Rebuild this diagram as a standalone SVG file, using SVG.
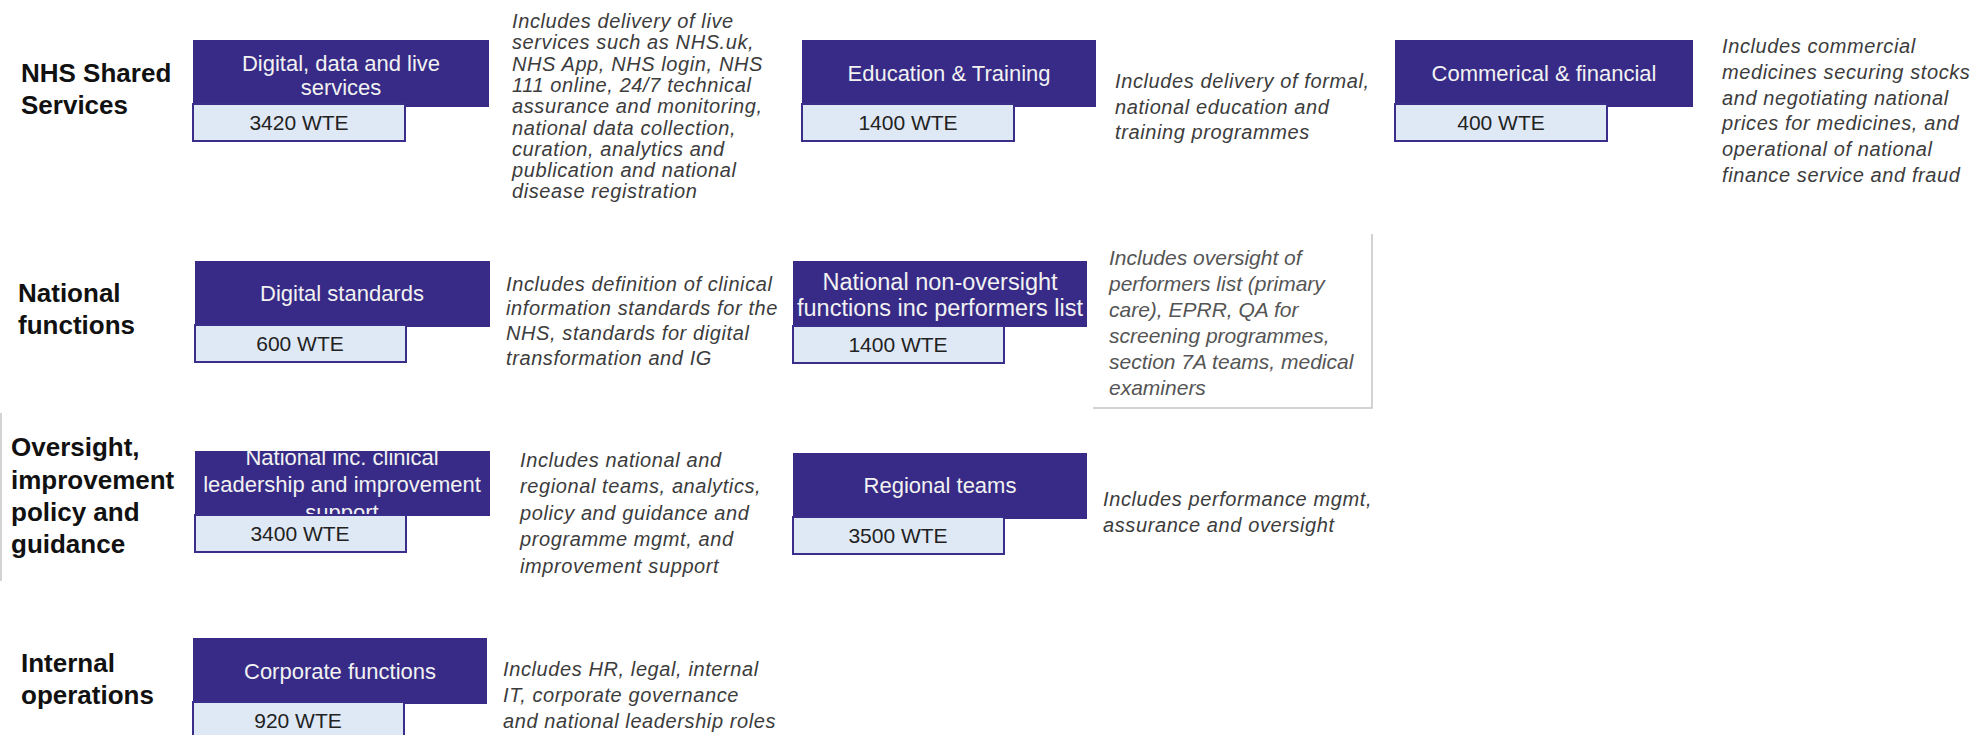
<svg xmlns="http://www.w3.org/2000/svg" width="1980" height="735" viewBox="0 0 1980 735">
<style>
.bg{fill:#ffffff}
.hd{fill:#372b87}
.wt{fill:#dfe9f5;stroke:#3a2e8a;stroke-width:2}
.ht{font-family:"Liberation Sans",Arial,sans-serif;font-size:22px;fill:#f2f2f2;text-anchor:middle}
.ht2{font-family:"Liberation Sans",Arial,sans-serif;font-size:23.5px;fill:#f2f2f2;text-anchor:middle}
.wtt{font-family:"Liberation Sans",Arial,sans-serif;font-size:21px;fill:#222;text-anchor:middle}
.ds{font-family:"Liberation Sans",Arial,sans-serif;font-size:20px;letter-spacing:0.6px;font-style:italic;fill:#3c3c3c}
.ds2{font-family:"Liberation Sans",Arial,sans-serif;font-size:21px;font-style:italic;fill:#555}
.lb{font-family:"Liberation Sans",Arial,sans-serif;font-size:26px;font-weight:bold;fill:#111}
.rule{stroke:#c4c4c4;stroke-width:1.5;fill:none}
</style>
<rect class="bg" x="0" y="0" width="1980" height="735"/>

<g id="row-labels">
<text class="lb" x="21" y="82">NHS Shared</text>
<text class="lb" x="21" y="114">Services</text>
<text class="lb" x="18" y="302">National</text>
<text class="lb" x="18" y="334">functions</text>
<text class="lb" x="11" y="456">Oversight,</text>
<text class="lb" x="11" y="489">improvement</text>
<text class="lb" x="11" y="521">policy and</text>
<text class="lb" x="11" y="553">guidance</text>
<text class="lb" x="21" y="672">Internal</text>
<text class="lb" x="21" y="704">operations</text>
<line class="rule" x1="1" y1="413" x2="1" y2="581"/>
</g>

<g id="connectors"></g>

<g id="digital-data-live">
<rect class="hd" x="193" y="40" width="296" height="67"/>
<text class="ht" x="341" y="71">Digital, data and live</text>
<text class="ht" x="341" y="95">services</text>
<rect class="wt" x="193" y="104" width="212" height="37"/>
<text class="wtt" x="299" y="130">3420 WTE</text>
</g>
<g id="desc-digital-data-live">
<text class="ds" x="512" y="28">Includes delivery of live</text>
<text class="ds" x="512" y="49.3">services such as NHS.uk,</text>
<text class="ds" x="512" y="70.6">NHS App, NHS login, NHS</text>
<text class="ds" x="512" y="91.9">111 online, 24/7 technical</text>
<text class="ds" x="512" y="113.2">assurance and monitoring,</text>
<text class="ds" x="512" y="134.5">national data collection,</text>
<text class="ds" x="512" y="155.8">curation, analytics and</text>
<text class="ds" x="512" y="177.1">publication and national</text>
<text class="ds" x="512" y="198.4">disease registration</text>
</g>

<g id="education-training">
<rect class="hd" x="802" y="40" width="294" height="67"/>
<text class="ht" x="949" y="81">Education &amp; Training</text>
<rect class="wt" x="802" y="104" width="212" height="37"/>
<text class="wtt" x="908" y="130">1400 WTE</text>
</g>
<g id="desc-education-training">
<text class="ds" x="1115" y="88">Includes delivery of formal,</text>
<text class="ds" x="1115" y="113.5">national education and</text>
<text class="ds" x="1115" y="139">training programmes</text>
</g>

<g id="commercial-financial">
<rect class="hd" x="1395" y="40" width="298" height="67"/>
<text class="ht" x="1544" y="81">Commerical &amp; financial</text>
<rect class="wt" x="1395" y="104" width="212" height="37"/>
<text class="wtt" x="1501" y="130">400 WTE</text>
</g>
<g id="desc-commercial-financial">
<text class="ds" x="1722" y="53">Includes commercial</text>
<text class="ds" x="1722" y="78.8">medicines securing stocks</text>
<text class="ds" x="1722" y="104.6">and negotiating national</text>
<text class="ds" x="1722" y="130.4">prices for medicines, and</text>
<text class="ds" x="1722" y="156.2">operational of national</text>
<text class="ds" x="1722" y="182">finance service and fraud</text>
</g>

<g id="digital-standards">
<rect class="hd" x="195" y="261" width="295" height="66"/>
<text class="ht" x="342" y="301">Digital standards</text>
<rect class="wt" x="195" y="325" width="211" height="37"/>
<text class="wtt" x="300" y="351">600 WTE</text>
</g>
<g id="desc-digital-standards">
<text class="ds" x="506" y="290.5">Includes definition of clinical</text>
<text class="ds" x="506" y="315.4">information standards for the</text>
<text class="ds" x="506" y="340.3">NHS, standards for digital</text>
<text class="ds" x="506" y="365.2">transformation and IG</text>
</g>

<g id="national-non-oversight">
<rect class="hd" x="793" y="261" width="294" height="66"/>
<text class="ht2" x="940" y="290">National non-oversight</text>
<text class="ht2" x="940" y="316">functions inc performers list</text>
<rect class="wt" x="793" y="326" width="211" height="37"/>
<text class="wtt" x="898" y="352">1400 WTE</text>
</g>
<g id="desc-national-non-oversight">
<polyline class="rule" points="1372,234 1372,408 1093,408"/>
<text class="ds2" x="1109" y="265">Includes oversight of</text>
<text class="ds2" x="1109" y="291">performers list (primary</text>
<text class="ds2" x="1109" y="317">care), EPRR, QA for</text>
<text class="ds2" x="1109" y="343">screening programmes,</text>
<text class="ds2" x="1109" y="369">section 7A teams, medical</text>
<text class="ds2" x="1109" y="395">examiners</text>
</g>

<g id="national-clinical-leadership">
<rect class="hd" x="195" y="451" width="295" height="65"/>
<text class="ht" x="342" y="465">National inc. clinical</text>
<text class="ht" x="342" y="491.5">leadership and improvement</text>
<text class="ht" x="342" y="520">support</text>
<rect class="wt" x="195" y="515" width="211" height="37"/>
<text class="wtt" x="300" y="541">3400 WTE</text>
</g>
<g id="desc-national-clinical-leadership">
<text class="ds" x="520" y="466.5">Includes national and</text>
<text class="ds" x="520" y="493">regional teams, analytics,</text>
<text class="ds" x="520" y="519.5">policy and guidance and</text>
<text class="ds" x="520" y="546">programme mgmt, and</text>
<text class="ds" x="520" y="572.5">improvement support</text>
</g>

<g id="regional-teams">
<rect class="hd" x="793" y="453" width="294" height="66"/>
<text class="ht" x="940" y="493">Regional teams</text>
<rect class="wt" x="793" y="517" width="211" height="37"/>
<text class="wtt" x="898" y="543">3500 WTE</text>
</g>
<g id="desc-regional-teams">
<text class="ds" x="1103" y="506">Includes performance mgmt,</text>
<text class="ds" x="1103" y="531.5">assurance and oversight</text>
</g>

<g id="corporate-functions">
<rect class="hd" x="193" y="638" width="294" height="66"/>
<text class="ht" x="340" y="679">Corporate functions</text>
<rect class="wt" x="193" y="702" width="211" height="50"/>
<text class="wtt" x="298" y="728">920 WTE</text>
</g>
<g id="desc-corporate-functions">
<text class="ds" x="503" y="676">Includes HR, legal, internal</text>
<text class="ds" x="503" y="702">IT, corporate governance</text>
<text class="ds" x="503" y="728">and national leadership roles</text>
</g>
</svg>
